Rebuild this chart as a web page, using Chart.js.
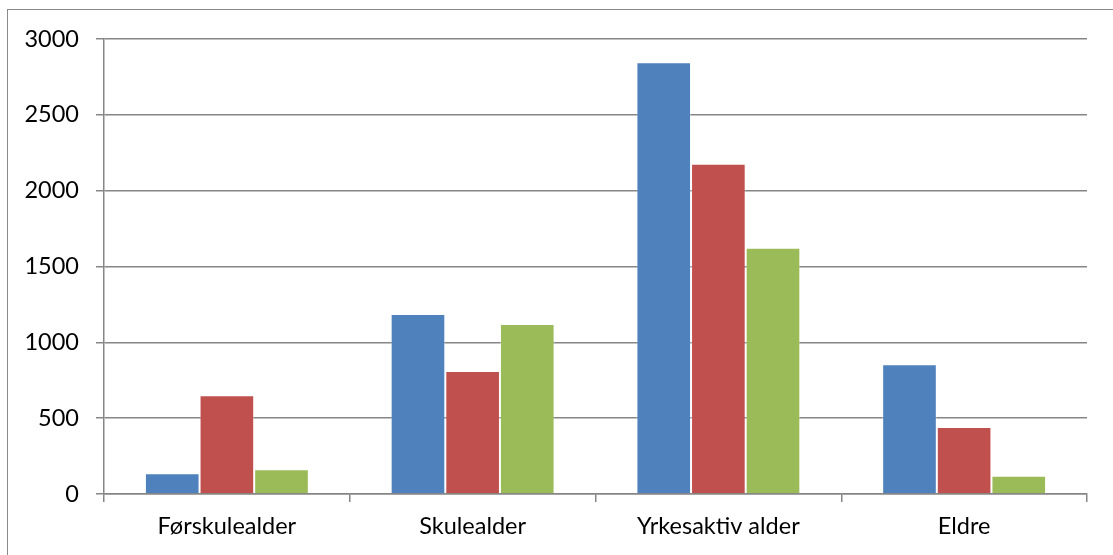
<!DOCTYPE html>
<html>
<head>
<meta charset="utf-8">
<script src="https://cdn.jsdelivr.net/npm/chart.js@4"></script>
<style>
  html, body { margin: 0; padding: 0; background: #fff; }
  #wrap { position: relative; width: 1113px; height: 555px; overflow: hidden; }
  #frame { position: absolute; left: 7px; top: 9px; width: 1200px; height: 700px; border: 1.5px solid #8a8a8a; }
  #myChart { position: absolute; left: 0; top: 0; }
</style>
</head>
<body>
<div id="wrap">
  <div id="frame"></div>
  <canvas id="myChart" width="1113" height="555"></canvas>
</div>
<script>
"use strict";

let categories = ['Førskulealder', 'Skulealder', 'Yrkesaktiv alder', 'Eldre'];
let seriesA = [136, 1187, 2846, 855];
let seriesB = [651, 811, 2178, 442];
let seriesC = [163, 1121, 1624, 121];
let tickValues = [0, 500, 1000, 1500, 2000, 2500, 3000];

let gridColor = '#868686';
let fontFamily = 'Lato, "Open Sans", sans-serif';

const ctx = document.getElementById('myChart').getContext('2d');
const myChart = new Chart(ctx, {
    type: 'bar',
    data: {
        labels: categories,
        datasets: [{
            data: seriesA,
            backgroundColor: '#4F81BD',
            borderColor: 'rgba(255,255,255,0.35)',
            borderWidth: 1
        }, {
            data: seriesB,
            backgroundColor: '#C0504D',
            borderColor: 'rgba(255,255,255,0.35)',
            borderWidth: 1
        }, {
            data: seriesC,
            backgroundColor: '#9BBB59',
            borderColor: 'rgba(255,255,255,0.35)',
            borderWidth: 1
        }]
    },
    options: {
        responsive: false,
        animation: false,
        layout: {
            padding: { left: 0, top: 39, right: 26, bottom: 0 }
        },
        plugins: {
            legend: { display: false },
            tooltip: { enabled: false }
        },
        datasets: {
            bar: {
                categoryPercentage: 0.667,
                barPercentage: 1
            }
        },
        scales: {
            x: {
                grid: {
                    drawOnChartArea: false,
                    drawTicks: true,
                    tickLength: 8,
                    color: gridColor,
                    lineWidth: 1.5
                },
                border: { color: gridColor, width: 1.5 },
                ticks: {
                    color: '#000',
                    padding: 10,
                    font: { family: fontFamily, size: 23.5 }
                },
                afterFit: function(scale) { scale.height = 61; }
            },
            y: {
                min: 0,
                max: 3000,
                afterBuildTicks: function(scale) {
                    scale.ticks = tickValues.map(function(v) { return { value: v }; });
                },
                grid: {
                    drawTicks: true,
                    tickLength: 8,
                    color: gridColor,
                    lineWidth: 1.5
                },
                border: { color: gridColor, width: 1.5 },
                ticks: {
                    color: '#000',
                    padding: 17,
                    font: { family: fontFamily, size: 23.5 },
                    callback: function(value) { return String(value); }
                },
                afterFit: function(scale) { scale.width = 104; }
            }
        }
    }
});
</script>
</body>
</html>
